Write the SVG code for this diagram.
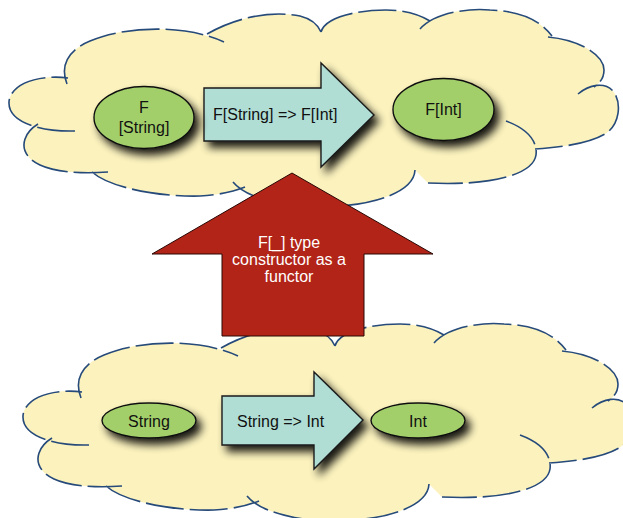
<svg xmlns="http://www.w3.org/2000/svg" xmlns:xlink="http://www.w3.org/1999/xlink" width="623" height="518" viewBox="0 0 623 518">
<style>
.cfill{fill:#FBF2BD;stroke:none}
.cline{fill:none;stroke:#264A7A;stroke-width:1.6;stroke-dasharray:38 6}
.node{fill:#A3CF6B;stroke:#111;stroke-width:1.4}
.cyan{fill:#B0DED5;stroke:#1a1a1a;stroke-width:1.4}
.red{fill:#B22418;stroke:#2a0805;stroke-width:1}
text{font-family:"Liberation Sans",Arial,sans-serif;font-size:16px;fill:#111}
.c{text-anchor:middle}
.w{fill:#fff}
</style>
<defs>
<filter id="sh" x="-30%" y="-40%" width="170%" height="190%">
<feGaussianBlur in="SourceAlpha" stdDeviation="4"/>
<feOffset dx="5" dy="6"/>
<feComponentTransfer><feFuncA type="linear" slope="0.9"/></feComponentTransfer>
<feMerge><feMergeNode/><feMergeNode in="SourceGraphic"/></feMerge>
</filter>
<g id="cloud">
<path class="cfill" d="M75,131 C40,132 8,122 9,102 C10,84 40,74 68,78 L67,84 C60,66 68,50 90,41 C125,26 185,24 224,42 L207,34 C235,18 270,10 300,16 C312,19 318,25 321,32 C325,18 355,10 386,10 C405,10 420,15 430,21 L420,29 C435,12 470,8 490,10 C520,11 540,20 552,36 L548,37 C580,40 604,55 604,70 C604,78 600,83 594,87 L578,94 C590,84 605,82 613,91 C622,102 620,125 605,134 C590,143 565,147 535,149 L506,121 C525,128 538,140 536,155 C533,175 490,186 428,183 L415,170 C414,190 380,206 320,207 C280,207 245,197 233,182 L245,187 C235,191 220,195 200,196 C160,197 110,188 92,172 L108,172 C80,174 55,172 40,165 C18,155 20,135 38,124 Z"/>
<path class="cline" d="M75,131 C40,132 8,122 9,102 C10,84 40,74 68,78 M67,84 C60,66 68,50 90,41 C125,26 185,24 224,42 M207,34 C235,18 270,10 300,16 C312,19 318,25 321,32 M321,32 C325,18 355,10 386,10 C405,10 420,15 430,21 M420,29 C435,12 470,8 490,10 C520,11 540,20 552,36 M548,37 C580,40 604,55 604,70 C604,78 600,83 594,87 M578,94 C590,84 605,82 613,91 C622,102 620,125 605,134 C590,143 565,147 535,149 M506,121 C525,128 538,140 536,155 C533,175 490,186 428,183 M415,170 C414,190 380,206 320,207 C280,207 245,197 233,182 M92,172 C110,188 160,197 200,196 C220,195 235,191 245,187 M38,124 C20,135 18,155 40,165 C55,172 80,174 108,172"/>
</g>
</defs>
<g id="cloud-top"><use xlink:href="#cloud" href="#cloud"/></g>
<g id="cloud-bottom"><use xlink:href="#cloud" href="#cloud" transform="translate(14,314)"/></g>
<g id="connectors">
<g id="arrow-top">
<polygon class="cyan" filter="url(#sh)" points="204,88 321,88 321,63 374,115 321,167 321,141 204,141"/>
<text x="213" y="120">F[String] =&gt; F[Int]</text>
</g>
<g id="arrow-bottom">
<polygon class="cyan" filter="url(#sh)" points="222,396 314,396 314,372 363,420 314,469 314,445 222,445"/>
<text x="237" y="426.5">String =&gt; Int</text>
</g>
<g id="arrow-functor">
<polygon class="red" points="292,173 433,254 364,254 364,336 222,336 222,254 152,254"/>
<text class="c w" x="289" y="247.5">F[_] type</text>
<text class="c w" x="289" y="264.5">constructor as a</text>
<text class="c w" x="289" y="281.5">functor</text>
</g>
</g>
<g id="node-fstring">
<ellipse class="node" filter="url(#sh)" cx="144" cy="117.5" rx="50" ry="31"/>
<text class="c" x="144" y="113.3">F</text>
<text class="c" x="144" y="133">[String]</text>
</g>
<g id="node-fint">
<ellipse class="node" filter="url(#sh)" cx="443.5" cy="109.5" rx="50.5" ry="31"/>
<text class="c" x="443.5" y="115">F[Int]</text>
</g>
<g id="node-string">
<ellipse class="node" filter="url(#sh)" cx="149" cy="420.5" rx="47" ry="17.5"/>
<text class="c" x="149" y="426.5">String</text>
</g>
<g id="node-int">
<ellipse class="node" filter="url(#sh)" cx="418" cy="420.5" rx="47" ry="17.5"/>
<text class="c" x="418" y="426.5">Int</text>
</g>
</svg>
